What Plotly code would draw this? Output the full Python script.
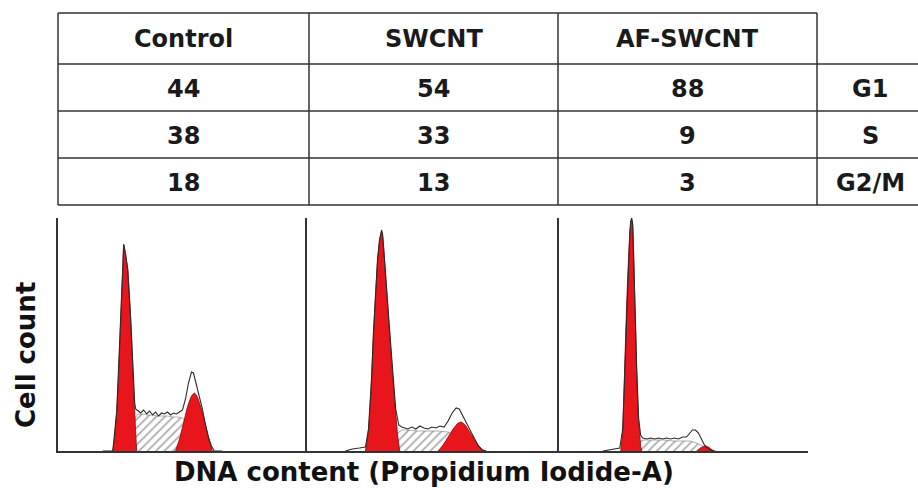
import plotly.graph_objects as go

# ---------------- Table data ----------------
conditions = ["Control", "SWCNT", "AF-SWCNT"]
phases = ["G1", "S", "G2/M"]
control_pct = [44, 38, 18]
swcnt_pct = [54, 33, 13]
af_swcnt_pct = [88, 9, 3]

# ---------------- Histogram data (channel, count) ----------------
# Panel 1: Control
ctrl_g1_x = [55, 57, 59, 61, 63, 65, 66, 68, 70, 72, 73, 75, 77, 78, 79]
ctrl_g1_y = [0, 15, 40, 80, 131, 180, 206, 195, 181, 150, 131, 85, 40, 18, 0]
ctrl_g2_x = [118, 122, 126, 130, 134, 137, 140, 144, 148, 152, 155]
ctrl_g2_y = [0, 12, 28, 44, 55, 58, 54, 42, 26, 10, 0]
ctrl_s_x = [72, 76, 80, 85, 90, 95, 100, 105, 110, 115, 120, 125, 130, 135, 140, 145, 150]
ctrl_s_y = [0, 30, 37, 37, 36, 36, 35, 35, 35, 34, 34, 33, 28, 22, 15, 8, 0]
ctrl_env_x = [45, 55, 59, 63, 65, 66, 68, 70, 73, 75, 77, 78, 80, 83, 86, 89, 92, 95, 98, 101,
              104, 107, 110, 113, 116, 119, 122, 125, 128, 131, 134, 136, 138, 140, 142, 145,
              148, 151, 154, 157, 165]
ctrl_env_y = [0, 0, 40, 131, 180, 207, 196, 182, 131, 85, 48, 42, 40, 38, 41, 37, 40, 36, 39, 35,
              38, 37, 39, 36, 38, 37, 39, 41, 52, 68, 79, 78, 70, 62, 55, 42,
              27, 14, 5, 0, 0]

# Panel 2: SWCNT
sw_g1_x = [58, 61, 64, 66, 68, 70, 72, 74, 75, 77, 79, 82, 85, 88, 90, 92]
sw_g1_y = [0, 20, 70, 118, 155, 190, 210, 219, 215, 190, 160, 118, 75, 38, 15, 0]
sw_g2_x = [130, 135, 140, 145, 150, 153, 157, 162, 167, 172, 176]
sw_g2_y = [0, 6, 14, 22, 28, 29, 26, 18, 10, 3, 0]
sw_s_x = [86, 90, 94, 100, 110, 120, 130, 140, 148, 155, 162, 170, 175]
sw_s_y = [0, 18, 21, 21, 20, 20, 20, 19, 15, 10, 6, 2, 0]
sw_env_x = [38, 45, 52, 58, 61, 64, 66, 68, 70, 72, 74, 75, 77, 79, 82, 85, 88, 91, 94, 97, 100,
            104, 108, 112, 116, 120, 124, 128, 132, 136, 140, 144, 148, 151, 154, 158, 162,
            166, 170, 174, 178]
sw_env_y = [0, 2, 3, 4, 22, 72, 120, 157, 192, 212, 221, 217, 192, 162, 120, 78, 42, 26, 24, 23, 22,
            24, 22, 25, 23, 22, 24, 23, 25, 24, 30, 38, 43, 42, 36, 28, 20,
            12, 5, 1, 0]

# Panel 3: AF-SWCNT
af_g1_x = [62, 64, 65, 67, 69, 71, 72, 73, 74, 75, 76, 77, 78, 79, 80, 81, 82, 83]
af_g1_y = [0, 21, 50, 118, 175, 215, 228, 231, 225, 195, 155, 118, 80, 50, 30, 18, 5, 0]
af_g2_x = [138, 142, 146, 150, 154, 157]
af_g2_y = [0, 3, 5, 4, 1, 0]
af_s_x = [80, 82, 85, 95, 105, 115, 125, 132, 138, 144, 150, 155]
af_s_y = [0, 10, 11, 11, 11, 10, 10, 10, 8, 5, 2, 0]
af_env_x = [44, 50, 56, 61, 64, 65, 67, 69, 71, 72, 73, 74, 75, 76, 77, 78, 79, 80, 82, 84, 88,
            92, 96, 100, 104, 108, 112, 116, 120, 124, 128, 131, 134, 137, 140, 143, 146,
            150, 155]
af_env_y = [0, 1, 2, 3, 22, 51, 120, 177, 217, 230, 233, 227, 197, 157, 120, 82, 52, 32, 16, 13, 12,
            13, 12, 13, 12, 13, 12, 13, 12, 14, 14, 18, 21, 21, 18, 12, 6,
            2, 0]

panels = [
    (ctrl_s_x, ctrl_s_y, ctrl_g1_x, ctrl_g1_y, ctrl_g2_x, ctrl_g2_y, ctrl_env_x, ctrl_env_y),
    (sw_s_x, sw_s_y, sw_g1_x, sw_g1_y, sw_g2_x, sw_g2_y, sw_env_x, sw_env_y),
    (af_s_x, af_s_y, af_g1_x, af_g1_y, af_g2_x, af_g2_y, af_env_x, af_env_y),
]

W, H = 918, 490
RED = "#E8161C"
LINE = "#333333"


def px(x):
    return x / W


def py(y):
    return 1 - y / H


fig = go.Figure()

panel_px = [(58, 307), (307, 559), (559, 808)]
y_top, y_bot = 218, 451

for i, (sx, sy, g1x, g1y, g2x, g2y, ex, ey) in enumerate(panels):
    n = "" if i == 0 else str(i + 1)
    xa, ya = "x" + n, "y" + n
    fig.add_trace(go.Scatter(
        x=sx, y=sy, xaxis=xa, yaxis=ya, mode="lines", line=dict(width=0.6, color="#7a7a7a"),
        fill="tozeroy", fillcolor="white",
        fillpattern=dict(shape="/", fgcolor="#5a5a5a", bgcolor="white", size=6, solidity=0.3),
        hoverinfo="skip", showlegend=False))
    for gx, gy in ((g2x, g2y), (g1x, g1y)):
        fig.add_trace(go.Scatter(
            x=gx, y=gy, xaxis=xa, yaxis=ya, mode="lines",
            line=dict(width=0.8, color="#7a0a0a", shape="spline", smoothing=0.4),
            fill="tozeroy", fillcolor=RED, hoverinfo="skip", showlegend=False))
    fig.add_trace(go.Scatter(
        x=ex, y=ey, xaxis=xa, yaxis=ya, mode="lines",
        line=dict(width=1.1, color="#2b2b2b"),
        hoverinfo="skip", showlegend=False))

layout_axes = {}
for i, (x0, x1) in enumerate(panel_px):
    n = "" if i == 0 else str(i + 1)
    layout_axes["xaxis" + n] = dict(
        domain=[px(x0), px(x1)], range=[0, 250], showline=True, linecolor=LINE, linewidth=1.5,
        showgrid=False, zeroline=False, showticklabels=False, ticks="",
        anchor="y" + n, fixedrange=True)
    layout_axes["yaxis" + n] = dict(
        domain=[py(y_bot), py(y_top)], range=[0, 233], showline=True, linecolor=LINE, linewidth=1.5,
        showgrid=False, zeroline=False, showticklabels=False, ticks="",
        anchor="x" + n, fixedrange=True)

# ---------------- Table drawing ----------------
col_edges = [58, 309, 558, 817, 925]
row_edges = [13, 64, 111, 158, 205]
shapes = []
shapes.append(dict(type="line", xref="paper", yref="paper", x0=px(58), x1=px(817),
                   y0=py(13), y1=py(13), line=dict(color=LINE, width=1.5)))
for r in row_edges[1:]:
    shapes.append(dict(type="line", xref="paper", yref="paper", x0=px(58), x1=1.0,
                       y0=py(r), y1=py(r), line=dict(color=LINE, width=1.5)))
for c in col_edges[:4]:
    shapes.append(dict(type="line", xref="paper", yref="paper", x0=px(c), x1=px(c),
                       y0=py(13), y1=py(205), line=dict(color=LINE, width=1.5)))

annotations = []
tfont = dict(family="DejaVu Sans", size=24, color="#1a1a1a", weight="bold")
col_centers = [(col_edges[k] + col_edges[k + 1]) / 2 for k in range(4)]
row_centers = [(row_edges[k] + row_edges[k + 1]) / 2 + 1 for k in range(4)]
for k, name in enumerate(conditions):
    annotations.append(dict(text=name, x=px(col_centers[k]), y=py(row_centers[0]),
                            xref="paper", yref="paper", showarrow=False, font=tfont,
                            xanchor="center", yanchor="middle"))
for k, vals in enumerate([control_pct, swcnt_pct, af_swcnt_pct]):
    for r, v in enumerate(vals):
        annotations.append(dict(text=str(v), x=px(col_centers[k]), y=py(row_centers[r + 1]),
                                xref="paper", yref="paper", showarrow=False, font=tfont,
                                xanchor="center", yanchor="middle"))
for r, ph in enumerate(phases):
    annotations.append(dict(text=ph, x=px(870), y=py(row_centers[r + 1]),
                            xref="paper", yref="paper", showarrow=False, font=tfont,
                            xanchor="center", yanchor="middle"))

afont = dict(family="DejaVu Sans", size=26, color="#111111", weight="bold")
annotations.append(dict(text="DNA content (Propidium Iodide-A)", x=px(423.5), y=py(472),
                        xref="paper", yref="paper", showarrow=False, font=afont,
                        xanchor="center", yanchor="middle"))
annotations.append(dict(text="Cell count", x=px(26), y=py(355), textangle=-90,
                        xref="paper", yref="paper", showarrow=False, font=afont,
                        xanchor="center", yanchor="middle"))

fig.update_layout(
    width=W, height=H, margin=dict(l=0, r=0, t=0, b=0),
    paper_bgcolor="white", plot_bgcolor="white",
    shapes=shapes, annotations=annotations, showlegend=False,
    **layout_axes,
)

fig.write_html("out.html", config={"displayModeBar": False},
               post_script="document.body.style.margin='0px';document.body.style.overflow='hidden';")
